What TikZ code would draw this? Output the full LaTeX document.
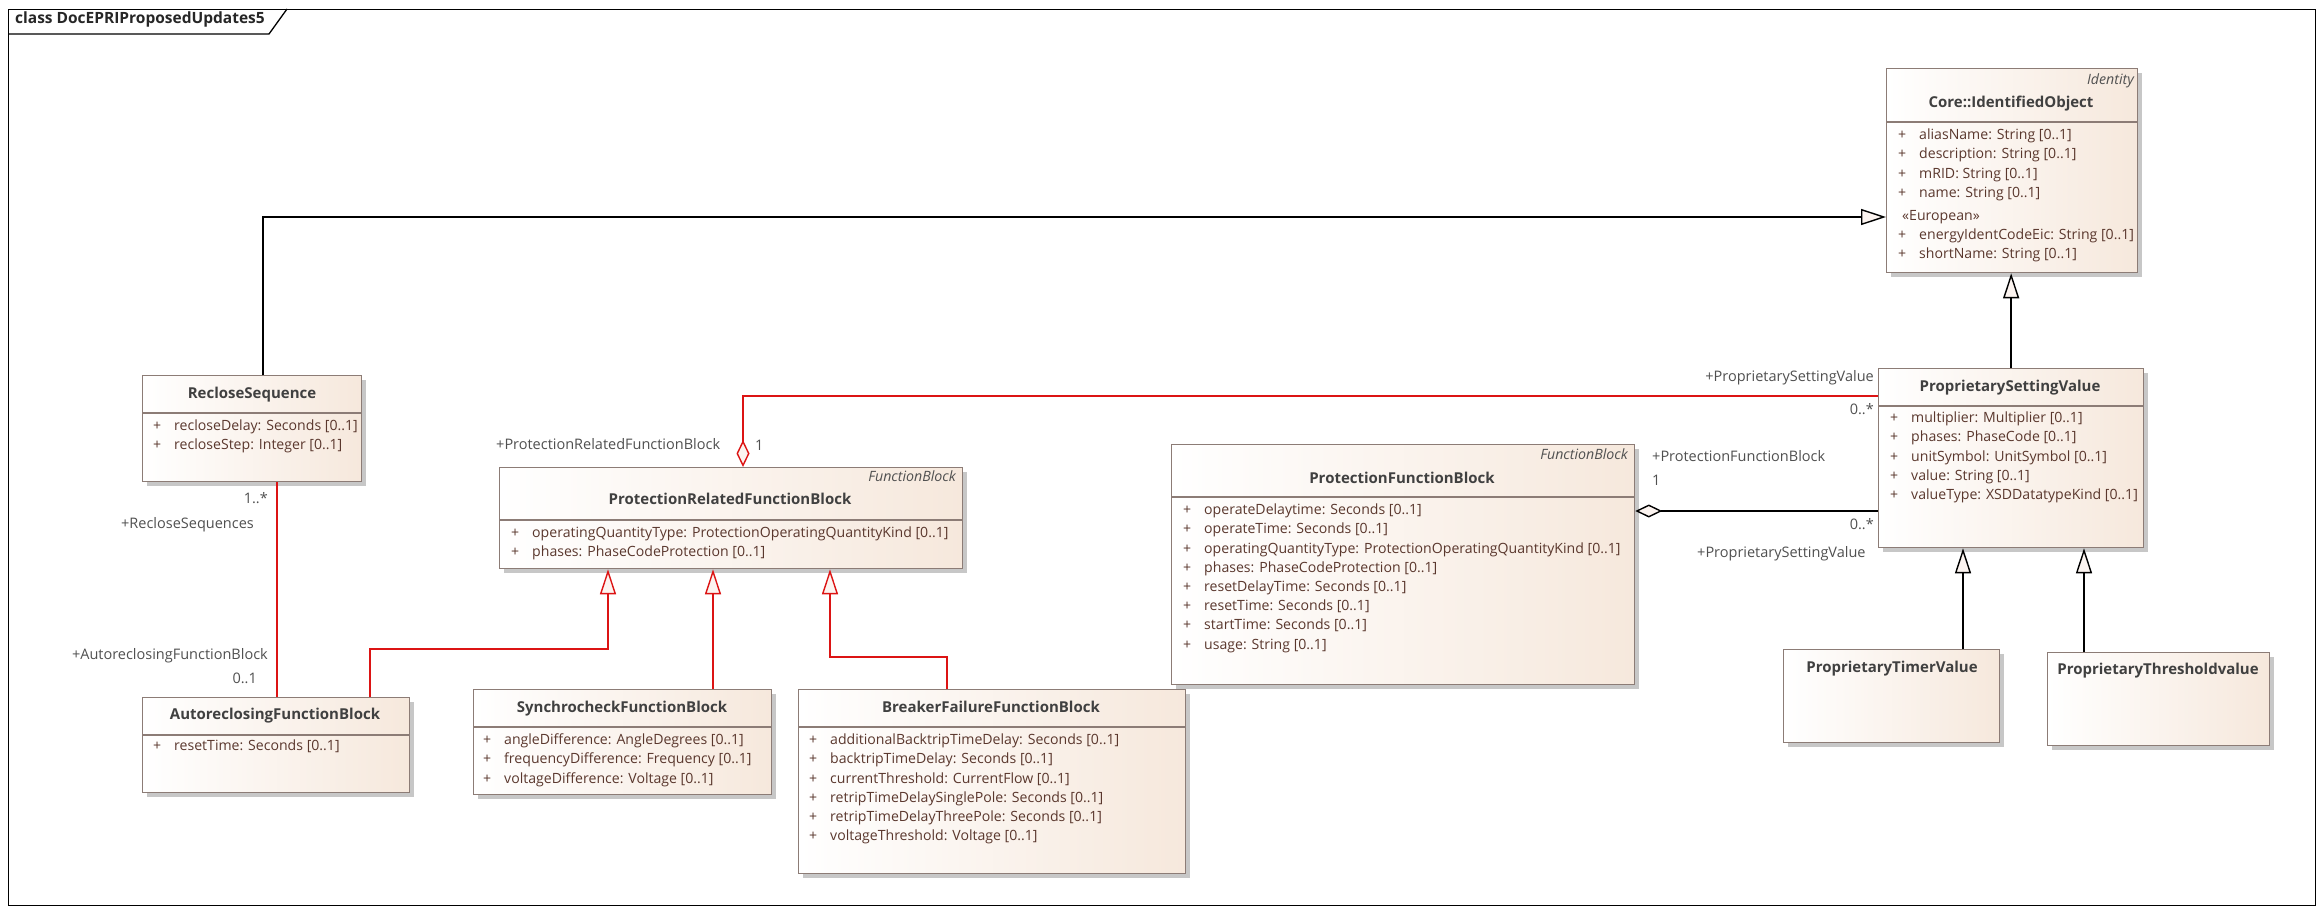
\documentclass[tikz,border=0pt]{standalone}
\usepackage{fontspec}
\setmainfont{Open Sans}
\usetikzlibrary{arrows.meta,shadows}
\definecolor{boxR}{RGB}{246,232,220}
\definecolor{boxB}{RGB}{140,124,118}
\definecolor{attrC}{RGB}{90,55,45}
\definecolor{nameC}{RGB}{64,64,64}
\definecolor{lblC}{RGB}{80,80,80}
\definecolor{redC}{RGB}{220,20,20}
\definecolor{tipF}{RGB}{252,244,240}
\tikzset{
 classbox/.style={draw=boxB, line width=1.3pt, left color=white, right color=boxR, inner sep=0pt, anchor=north west,
   general shadow={fill=black!22, shadow xshift=4pt, shadow yshift=-4pt}},
 sepline/.style={draw=boxB, line width=1.3pt},
 cname/.style={font=\fontsize{15}{18}\selectfont\bfseries, text=nameC, inner sep=0pt, anchor=mid},
 stereo/.style={font=\fontsize{14.2}{17}\selectfont\itshape, text=lblC, inner sep=0pt, anchor=mid east},
 attr/.style={font=\fontsize{14.1}{17}\selectfont, text=attrC, inner sep=0pt, anchor=mid west},
 lbl/.style={font=\fontsize{14.5}{17}\selectfont, text=lblC, inner sep=0pt},
 titlef/.style={font=\fontsize{15.5}{18}\selectfont\bfseries, text=black!85, inner sep=0pt, anchor=mid west},
 genblk/.style={draw=black, line width=1.4pt, -{Triangle[length=25pt,width=16pt,fill=tipF]}},
 genred/.style={draw=redC, line width=1.4pt, -{Triangle[length=25pt,width=16pt,fill=tipF]}},
 aggblk/.style={draw=black, line width=1.4pt, {Diamond[length=27pt,width=13pt,fill=tipF]}-},
 aggred/.style={draw=redC, line width=1.4pt, {Diamond[length=27pt,width=13pt,fill=tipF]}-},
 assocred/.style={draw=redC, line width=1.4pt},
}
\newcommand\attrlist[4]{\foreach \atxt [count=\idx] in {#4} {\node[attr] (#1\idx) at (#2,{#3+19.2*(\idx-1)}) {\makebox[21pt][l]{+}\atxt};}}
\begin{document}
\begin{tikzpicture}[x=1pt,y=-1pt]
\useasboundingbox[fill=white] (0,0) rectangle (2323,916);
% frame
\node[draw=black, line width=1.3pt, minimum width=2307pt, minimum height=896pt, anchor=north west, inner sep=0pt] (frame) at (8,9) {};
\draw[line width=1.3pt] (frame.west |- 0,34) -- (269,34) -- (287,9);
\node[titlef] (title) at (15,21) {class DocEPRIProposedUpdates5};

% Core::IdentifiedObject
\node[classbox, minimum width=251pt, minimum height=204pt] (io) at (1886,68) {};
\draw[sepline] (io.west |- 0,122) -- (io.east |- 0,122);
\node[stereo] (iost) at (2134,82) {Identity};
\node[cname] (ion) at (2011,105) {Core::IdentifiedObject};
\attrlist{ioa}{1898}{137}{{aliasName: String [0..1]},{description: String [0..1]},{mRID: String [0..1]},{name: String [0..1]}}
\node[attr] (ioeu) at (1902,218) {«European»};
\attrlist{iob}{1898}{237}{{energyIdentCodeEic: String [0..1]},{shortName: String [0..1]}}

% RecloseSequence
\node[classbox, minimum width=219pt, minimum height=106pt] (rs) at (142,375) {};
\draw[sepline] (rs.west |- 0,413) -- (rs.east |- 0,413);
\node[cname] (rsn) at (252,396) {RecloseSequence};
\attrlist{rsa}{153}{428}{{recloseDelay: Seconds [0..1]},{recloseStep: Integer [0..1]}}

% ProtectionRelatedFunctionBlock
\node[classbox, minimum width=463pt, minimum height=101pt] (prfb) at (499,467) {};
\draw[sepline] (prfb.west |- 0,520) -- (prfb.east |- 0,520);
\node[stereo] (prfbst) at (956,479) {FunctionBlock};
\node[cname] (prfbn) at (730,502) {ProtectionRelatedFunctionBlock};
\attrlist{prfba}{511}{535}{{operatingQuantityType: ProtectionOperatingQuantityKind [0..1]},{phases: PhaseCodeProtection [0..1]}}

% ProtectionFunctionBlock
\node[classbox, minimum width=463pt, minimum height=240pt] (pfb) at (1171,444) {};
\draw[sepline] (pfb.west |- 0,497) -- (pfb.east |- 0,497);
\node[stereo] (pfbst) at (1628,457) {FunctionBlock};
\node[cname] (pfbn) at (1402,481) {ProtectionFunctionBlock};
\attrlist{pfba}{1183}{512}{{operateDelaytime: Seconds [0..1]},{operateTime: Seconds [0..1]},{operatingQuantityType: ProtectionOperatingQuantityKind [0..1]},{phases: PhaseCodeProtection [0..1]},{resetDelayTime: Seconds [0..1]},{resetTime: Seconds [0..1]},{startTime: Seconds [0..1]},{usage: String [0..1]}}

% ProprietarySettingValue
\node[classbox, minimum width=265pt, minimum height=179pt] (psv) at (1878,368) {};
\draw[sepline] (psv.west |- 0,406) -- (psv.east |- 0,406);
\node[cname] (psvn) at (2010,389) {ProprietarySettingValue};
\attrlist{psva}{1890}{420}{{multiplier: Multiplier [0..1]},{phases: PhaseCode [0..1]},{unitSymbol: UnitSymbol [0..1]},{value: String [0..1]},{valueType: XSDDatatypeKind [0..1]}}

% AutoreclosingFunctionBlock
\node[classbox, minimum width=267pt, minimum height=95pt] (auto) at (142,697) {};
\draw[sepline] (auto.west |- 0,735) -- (auto.east |- 0,735);
\node[cname] (auton) at (275,717) {AutoreclosingFunctionBlock};
\attrlist{autoa}{153}{748}{{resetTime: Seconds [0..1]}}

% SynchrocheckFunctionBlock
\node[classbox, minimum width=298pt, minimum height=105pt] (sync) at (473,689) {};
\draw[sepline] (sync.west |- 0,727) -- (sync.east |- 0,727);
\node[cname] (syncn) at (622,710) {SynchrocheckFunctionBlock};
\attrlist{synca}{483}{742}{{angleDifference: AngleDegrees [0..1]},{frequencyDifference: Frequency [0..1]},{voltageDifference: Voltage [0..1]}}

% BreakerFailureFunctionBlock
\node[classbox, minimum width=387pt, minimum height=184pt] (brk) at (798,689) {};
\draw[sepline] (brk.west |- 0,727) -- (brk.east |- 0,727);
\node[cname] (brkn) at (991,710) {BreakerFailureFunctionBlock};
\attrlist{brka}{809}{742}{{additionalBacktripTimeDelay: Seconds [0..1]},{backtripTimeDelay: Seconds [0..1]},{currentThreshold: CurrentFlow [0..1]},{retripTimeDelaySinglePole: Seconds [0..1]},{retripTimeDelayThreePole: Seconds [0..1]},{voltageThreshold: Voltage [0..1]}}

% ProprietaryTimerValue / ProprietaryThresholdvalue
\node[classbox, minimum width=216pt, minimum height=93pt] (timer) at (1783,649) {};
\node[cname] (timern) at (1892,670) {ProprietaryTimerValue};
\node[classbox, minimum width=222pt, minimum height=93pt] (thr) at (2047,652) {};
\node[cname] (thrn) at (2158,672) {ProprietaryThresholdvalue};

% connectors
\draw[genblk] (rs.north -| 263,0) |- (io.west |- 0,217);
\draw[genblk] (psv.north) -- (io.south -| psv.north);
\draw[aggred] (prfb.north -| 743,0) |- (psv.west |- 0,396);
\draw[aggblk] (pfb.east |- 0,511) -- (psv.west |- 0,511);
\draw[genblk] (timer.north -| 1963,0) -- (psv.south -| 1963,0);
\draw[genblk] (thr.north -| 2084,0) -- (psv.south -| 2084,0);
\draw[assocred] (rs.south -| 277,0) -- (auto.north -| 277,0);
\draw[genred] (auto.north -| 370,0) -- (370,649) -| (prfb.south -| 608,0);
\draw[genred] (sync.north -| 713,0) -- (prfb.south -| 713,0);
\draw[genred] (brk.north -| 947,0) -- (947,657) -| (prfb.south -| 830,0);

% connector labels
\node[lbl, anchor=mid east] (l1) at (1874,379) {+ProprietarySettingValue};
\node[lbl, anchor=mid east] (l2) at (1874,412) {0..*};
\node[lbl, anchor=mid west] (l3) at (1652,459) {+ProtectionFunctionBlock};
\node[lbl, anchor=mid west] (l4) at (1652,483) {1};
\node[lbl, anchor=mid east] (l5) at (1874,527) {0..*};
\node[lbl, anchor=mid west] (l6) at (1697,555) {+ProprietarySettingValue};
\node[lbl, anchor=mid west] (l7) at (496,447) {+ProtectionRelatedFunctionBlock};
\node[lbl, anchor=mid west] (l8) at (755,448) {1};
\node[lbl, anchor=mid east] (l9) at (268,501) {1..*};
\node[lbl, anchor=mid west] (l10) at (121,526) {+RecloseSequences};
\node[lbl, anchor=mid east] (l11) at (268,657) {+AutoreclosingFunctionBlock};
\node[lbl, anchor=mid east] (l12) at (257,681) {0..1};
\end{tikzpicture}
\end{document}
